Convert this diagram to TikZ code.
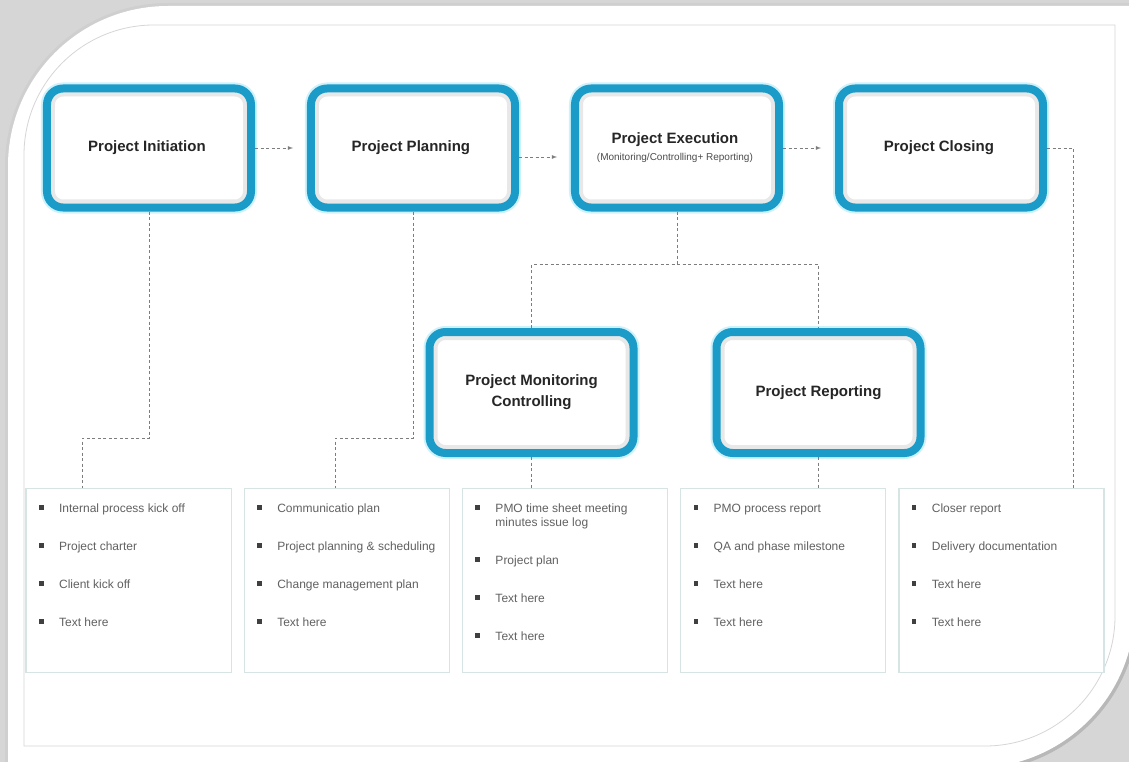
\documentclass[tikz,border=0pt]{standalone}
\usepackage{fontspec}
\setmainfont{Liberation Sans}
\usetikzlibrary{matrix,positioning,arrows}

\definecolor{stageblue}{RGB}{27,155,200}
\definecolor{glowblue}{RGB}{205,242,252}
\definecolor{noteline}{RGB}{214,228,228}
\definecolor{linkgray}{RGB}{125,125,125}
\definecolor{backgray}{RGB}{214,214,214}

% one bullet line in a note box
\newcommand{\pitem}[1]{\hangindent=23pt\noindent\makebox[23pt][l]{\hspace{3pt}\textcolor{black!75}{\rule[2.5pt]{4.5pt}{4.5pt}}}\strut#1\par\vspace{24pt}}

\begin{document}
\begin{tikzpicture}[x=1pt,y=-1pt,
     % define styles
     stage/.style={
         draw=stageblue, line width=8pt, fill=white,
         rounded corners=16pt,
         minimum width=204pt, minimum height=119pt,
         align=center, text=black!85,
         font=\fontsize{15}{18}\selectfont\bfseries,
         preaction={draw=glowblue, line width=12pt},
         path picture={\draw[black!9, line width=16pt, rounded corners=16pt]
             (path picture bounding box.south west) rectangle (path picture bounding box.north east);}
     },
     stages/.style={
         matrix of nodes,
         nodes={stage, anchor=center},
         column sep=48pt
     },
     note/.style={
         draw=noteline, line width=1.2pt, fill=white,
         minimum width=205pt, minimum height=184pt,
         inner xsep=10pt, inner ysep=0pt,
         text=black!62,
         font=\fontsize{12}{14}\selectfont
     },
     notes/.style={
         matrix of nodes,
         nodes={note, anchor=center},
         column sep=12pt
     },
     link/.style={
         draw=linkgray, line width=0.8pt,
         dash pattern=on 3pt off 2.5pt
     },
     >=latex
]
\useasboundingbox (0,0) rectangle (1129,762);

% card behind the chart, with a soft edge
\fill[backgray] (0,0) rectangle (1129,762);
\draw[black!19, line width=6pt] (8,762) -- (8,166) arc[start angle=180, end angle=90, radius=160pt] -- (1129,6);
\draw[black!16, line width=16pt] (1129,651) arc[start angle=-15.6, end angle=-74.4, radius=160pt];
\draw[black!28, line width=7pt] (1129,651) arc[start angle=-15.6, end angle=-74.4, radius=160pt];
\fill[white] (8,762) -- (8,166) arc[start angle=180, end angle=90, radius=160pt]
    -- (1129,6) -- (1129,651) arc[start angle=-15.6, end angle=-74.4, radius=160pt] -- cycle;
\draw[black!16, line width=0.8pt] (24,746) -- (24,155) arc[start angle=180, end angle=90, radius=130pt]
    -- (1115,25) -- (1115,616) arc[start angle=0, end angle=-90, radius=130pt] -- cycle;

% phases of the project
\matrix[stages] (stage) at (545,148)
{
Project Initiation & Project Planning &
\parbox{190pt}{\centering Project Execution\\[-1pt]{\fontsize{10}{12}\selectfont\mdseries\color{black!70}(Monitoring/Controlling+ Reporting)}} &
Project Closing \\
};

\node[stage, minimum height=121pt] (monitor) at (531.5,392.5) {Project Monitoring\\[3pt]Controlling};
\node[stage, minimum height=121pt, right=75pt of monitor] (report) {Project Reporting};

% bullet lists
\matrix[notes] (notes) at (565,580.5)
{
\parbox[t][156pt][t]{185pt}{\raggedright
  \pitem{Internal process kick off}
  \pitem{Project charter}
  \pitem{Client kick off}
  \pitem{Text here}} &
\parbox[t][156pt][t]{185pt}{\raggedright
  \pitem{Communicatio plan}
  \pitem{Project planning \& scheduling}
  \pitem{Change management plan}
  \pitem{Text here}} &
\parbox[t][156pt][t]{185pt}{\raggedright
  \pitem{PMO time sheet meeting\newline minutes issue log}
  \pitem{Project plan}
  \pitem{Text here}
  \pitem{Text here}} &
\parbox[t][156pt][t]{185pt}{\raggedright
  \pitem{PMO process report}
  \pitem{QA and phase milestone}
  \pitem{Text here}
  \pitem{Text here}} &
\parbox[t][156pt][t]{185pt}{\raggedright
  \pitem{Closer report}
  \pitem{Delivery documentation}
  \pitem{Text here}
  \pitem{Text here}} \\
};

% flow between phases
\draw[link,->,shorten >=14pt] (stage-1-1.east) -- (stage-1-2.west);
\draw[link,->,shorten >=14pt] ([yshift=-9pt]stage-1-2.east) -- ([yshift=-9pt]stage-1-3.west);
\draw[link,->,shorten >=14pt] (stage-1-3.east) -- (stage-1-4.west);

% phases to their lists
\coordinate (initbend) at (82,438);
\coordinate (planbend) at (335,438);
\coordinate (execjoin) at ([yshift=-53pt]stage-1-3.south);
\coordinate (closebend) at ([xshift=26pt]stage-1-4.east);
\draw[link] (stage-1-1.south) |- (initbend) -- (initbend |- notes-1-1.north);
\draw[link] (stage-1-2.south) |- (planbend) -- (planbend |- notes-1-2.north);
\draw[link] (stage-1-3.south) -- (execjoin);
\draw[link] (monitor.north) |- (execjoin) -| (report.north);
\draw[link] (monitor.south) -- (monitor.south |- notes-1-3.north);
\draw[link] (report.south) -- (report.south |- notes-1-4.north);
\draw[link] (stage-1-4.east) -- (closebend) -- (closebend |- notes-1-5.north);
\end{tikzpicture}
\end{document}
